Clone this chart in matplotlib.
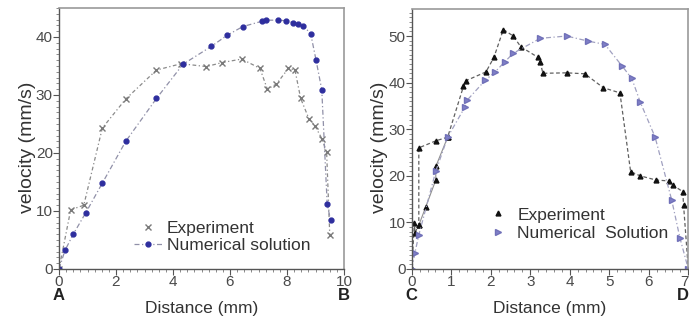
import matplotlib
matplotlib.use("Agg")
import matplotlib.pyplot as plt
from matplotlib.ticker import MultipleLocator

plt.rcParams['font.family'] = ['Liberation Sans', 'DejaVu Sans']

# ---- Left panel (A-B) ----
ab_exp_x = [0, 0.41, 0.87, 1.52, 2.34, 3.42, 4.29, 5.17, 5.73, 6.41, 7.05, 7.31,
            7.63, 8.05, 8.28, 8.48, 8.77, 8.98, 9.22, 9.39, 9.5]
ab_exp_y = [0, 10.2, 11.0, 24.3, 29.3, 34.3, 35.4, 34.9, 35.6, 36.2, 34.6, 31.0,
            31.9, 34.6, 34.3, 29.4, 25.9, 24.7, 22.5, 20.2, 5.9]
ab_num_x = [0, 0.21, 0.5, 0.94, 1.52, 2.34, 3.42, 4.35, 5.35, 5.9, 6.45, 7.11,
            7.25, 7.69, 7.98, 8.22, 8.4, 8.57, 8.83, 9.02, 9.22, 9.41, 9.53]
ab_num_y = [0, 3.2, 6.0, 9.7, 14.8, 22.0, 29.4, 35.3, 38.4, 40.3, 41.8, 42.7,
            42.9, 42.9, 42.8, 42.5, 42.2, 41.9, 40.6, 36.0, 30.9, 11.2, 8.4]

# ---- Right panel (C-D) ----
cd_exp_x = [0, 0.07, 0.08, 0.18, 0.18, 0.61, 0.91, 1.31, 1.37, 1.88, 2.08, 2.32,
            2.57, 2.76, 3.2, 3.25, 3.32, 3.92, 4.38, 4.85, 5.27, 5.54, 5.78, 6.18,
            6.5, 6.61, 6.86, 6.88, 7.0]
cd_exp_y = [0, 9.9, 7.8, 9.4, 26.0, 27.5, 28.3, 39.2, 40.4, 42.3, 45.4, 51.4,
            50.0, 47.7, 45.4, 44.5, 42.0, 42.1, 41.9, 38.9, 37.8, 20.9, 20.0, 19.1,
            18.9, 18.0, 16.6, 13.7, 0]
cd_exp2_x = [0.18, 0.35, 0.61, 0.61, 0.91]
cd_exp2_y = [9.4, 13.2, 19.1, 22.0, 28.3]
cd_num_x = [0, 0.08, 0.18, 0.61, 0.91, 1.35, 1.4, 1.86, 2.11, 2.36, 2.57, 3.25,
            3.92, 4.47, 4.89, 5.32, 5.57, 5.78, 6.16, 6.58, 6.79, 7.0]
cd_num_y = [0, 3.4, 7.3, 21.0, 28.3, 34.8, 36.2, 40.5, 42.3, 44.5, 46.3, 49.5,
            50.0, 48.9, 48.2, 43.6, 40.9, 35.9, 28.3, 14.8, 6.6, 0]
cd_xticks = [0, 1, 2, 3, 4, 5, 6, 7]

W, H = 689, 323
fig = plt.figure(figsize=(W / 100, H / 100), dpi=100)

ax1 = fig.add_axes([59 / W, 1 - 269 / H, (344 - 59) / W, (269 - 8) / H])
ax2 = fig.add_axes([411.7 / W, 1 - 269 / H, (688.3 - 411.7) / W, (269 - 9) / H])

txtc = '#333333'
for ax, ylx in ((ax1, 28), (ax2, 380)):
    for s in ('left', 'bottom'):
        ax.spines[s].set_color('#555555')
        ax.spines[s].set_linewidth(1.0)
    for s in ('top', 'right'):
        ax.spines[s].set_color('#9a9a9a')
        ax.spines[s].set_linewidth(1.2)
    ax.tick_params(which='major', direction='out', length=4, width=0.8,
                   color='#555555', labelsize=11, labelcolor='#4a4a4a', pad=0.5)
    ax.tick_params(which='minor', direction='out', length=2, width=0.6,
                   color='#777777')
    ax.tick_params(top=False, right=False)
    bb = ax.get_position()
    x0 = bb.x0 * W
    wpx = bb.width * W
    hpx = bb.height * H
    ax.set_ylabel('velocity (mm/s)', fontsize=14, color=txtc)
    ax.yaxis.label.set_va('center')
    ax.yaxis.set_label_coords((ylx - x0) / wpx, (269 - 147) / hpx)
    ax.set_xlabel('Distance (mm)', fontsize=12.5, color=txtc)
    ax.xaxis.label.set_va('center')
    ax.xaxis.set_label_coords(0.5, -(309 - 269) / hpx)

# Left panel
ax1.plot(ab_exp_x, ab_exp_y, linestyle=(0, (3, 2, 1, 2)), color='#8a8a8a',
         linewidth=0.9, marker='x', markersize=5, markeredgewidth=1.0,
         markeredgecolor='#7a7a7a', label='Experiment')
ax1.plot(ab_num_x, ab_num_y, linestyle=(0, (4, 2, 1, 2)), color='#9090a8',
         linewidth=0.9, marker='o', markersize=3.5, markerfacecolor='#2e2e9e',
         markeredgecolor='#2e2e9e', label='Numerical solution')
ax1.set_xlim(0, 10)
ax1.set_ylim(0, 45)
ax1.xaxis.set_major_locator(MultipleLocator(2))
ax1.xaxis.set_minor_locator(MultipleLocator(0.25))
ax1.yaxis.set_major_locator(MultipleLocator(10))
ax1.yaxis.set_minor_locator(MultipleLocator(1))
leg1 = ax1.legend(loc='lower left', bbox_to_anchor=(0.226, 0.02), frameon=False,
                  fontsize=12.5, handlelength=1.6, handletextpad=0.3,
                  labelspacing=0.15, borderpad=0.1)
for t in leg1.get_texts():
    t.set_color(txtc)
leg1.legend_handles[0].set_linestyle('none')

letter_y = -(296 - 269) / 261
ax1.text(0, letter_y, 'A', transform=ax1.get_xaxis_transform(), ha='center',
         va='center', fontsize=12, fontweight='bold', color='#222222')
ax1.text(10, letter_y, 'B', transform=ax1.get_xaxis_transform(), ha='center',
         va='center', fontsize=12, fontweight='bold', color='#222222')

# Right panel
ax2.plot(cd_exp_x, cd_exp_y, linestyle=(0, (3, 2)), color='#606060',
         linewidth=0.9, marker='^', markersize=3.5, markerfacecolor='#111111',
         markeredgecolor='#111111', label='Experiment')
ax2.plot(cd_exp2_x, cd_exp2_y, linestyle='-', color='#909090', linewidth=0.8,
         marker='^', markersize=3.5, markerfacecolor='#111111',
         markeredgecolor='#111111')
ax2.plot(cd_num_x, cd_num_y, linestyle=(0, (4, 2, 1, 2)), color='#a0a0c0',
         linewidth=0.9, marker='>', markersize=4.5, markerfacecolor='#8080c8',
         markeredgecolor='#7070b8', label='Numerical  Solution')
ax2.set_xlim(0, 7)
ax2.set_ylim(0, 55.8)
ax2.set_xticks(cd_xticks, [str(v) for v in cd_xticks])
ax2.xaxis.set_minor_locator(MultipleLocator(0.2))
ax2.yaxis.set_major_locator(MultipleLocator(10))
ax2.yaxis.set_minor_locator(MultipleLocator(1))
last_tick = ax2.xaxis.get_major_ticks()[len(cd_xticks) - 1]
last_tick.label1.set_horizontalalignment('right')
leg2 = ax2.legend(loc='lower left', bbox_to_anchor=(0.244, 0.067), frameon=False,
                  fontsize=12.5, handlelength=1.0, handletextpad=0.6,
                  labelspacing=0.2, borderpad=0.1)
for t in leg2.get_texts():
    t.set_color(txtc)
for h in leg2.legend_handles:
    h.set_linestyle('none')
ax2.text(0, letter_y, 'C', transform=ax2.get_xaxis_transform(), ha='center',
         va='center', fontsize=12, fontweight='bold', color='#222222')
ax2.text(1.0 + 0.3 / 276.6, letter_y, 'D', transform=ax2.transAxes, ha='right',
         va='center', fontsize=12, fontweight='bold', color='#222222')

fig.savefig('out.png', dpi=100)
